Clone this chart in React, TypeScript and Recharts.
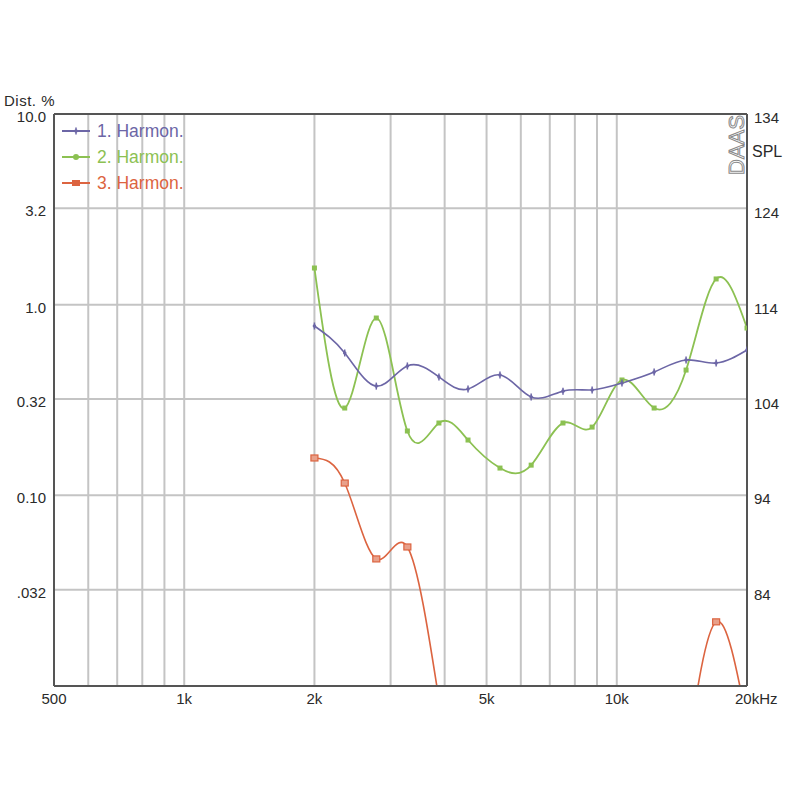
import React from 'react';
import { LineChart, Line, XAxis, YAxis, ReferenceLine } from 'recharts';

// Frequencies (Hz) of measured points
const freqs = [2000, 2350, 2780, 3280, 3880, 4530, 5370, 6340, 7510, 8770, 10280, 12200, 14460, 16970, 20000];
// Distortion in %
const harmon1 = [0.773, 0.558, 0.374, 0.477, 0.418, 0.361, 0.428, 0.328, 0.352, 0.357, 0.388, 0.443, 0.513, 0.494, 0.578];
const harmon2 = [1.557, 0.287, 0.851, 0.2175, 0.2395, 0.195, 0.139, 0.144, 0.2395, 0.228, 0.4027, 0.287, 0.454, 1.364, 0.754];
const harmon3: (number | null)[] = [0.157, 0.116, 0.0464, 0.0536, 0.0085, null, null, null, null, null, null, null, 0.004, 0.0217, 0.0065];

const seriesNames = ['1. Harmon.', '2. Harmon.', '3. Harmon.'];
const seriesColors = ['#6c66a6', '#8cc152', '#dc6440'];

const xTicks = [500, 1000, 2000, 5000, 10000, 20000];
const xTickLabels = ['500', '1k', '2k', '5k', '10k', '20k'];
const xGrid = [600, 700, 800, 900, 1000, 2000, 3000, 4000, 5000, 6000, 7000, 8000, 9000, 10000];

const yTicks = [10, 3.2, 1, 0.32, 0.1, 0.032];
const yTickLabels = ['10.0', '3.2', '1.0', '0.32', '0.10', '.032'];
const yGrid = [3.2, 1, 0.32, 0.1, 0.032];

const splTicks = [134, 124, 114, 104, 94, 84];

const data = freqs.map((f, i) => ({ f, h1: harmon1[i], h2: harmon2[i], h3: harmon3[i] }));

const FONT = '"Liberation Sans", Arial, sans-serif';
const GRID = '#c4c4c4';
const BORDER = '#555';
const TEXT = '#2a2a2a';

const XTick = (props: any) => {
  const { x, y, payload } = props;
  const idx = xTicks.indexOf(payload.value);
  const label = idx >= 0 ? xTickLabels[idx] : String(payload.value);
  if (payload.value === 20000) {
    return (
      <text x={x - 12} y={y + 16} fontSize={15} fontFamily={FONT} fill={TEXT} textAnchor="start">
        {label}Hz
      </text>
    );
  }
  return (
    <text x={x} y={y + 16} fontSize={15} fontFamily={FONT} fill={TEXT} textAnchor="middle">
      {label}
    </text>
  );
};

const YTickLeft = (props: any) => {
  const { x, y, payload } = props;
  const idx = yTicks.indexOf(payload.value);
  const label = idx >= 0 ? yTickLabels[idx] : String(payload.value);
  return (
    <text x={x - 6} y={y + 8} fontSize={15} fontFamily={FONT} fill={TEXT} textAnchor="end">
      {label}
    </text>
  );
};

const YTickRight = (props: any) => {
  const { x, y, payload } = props;
  return (
    <text x={x + 5} y={y + 9} fontSize={15} fontFamily={FONT} fill={TEXT} textAnchor="start">
      {payload.value}
    </text>
  );
};

const inPlot = (cx: number, cy: number) => cx >= 53 && cx <= 748 && cy >= 113 && cy <= 687;

const PlusDot = (props: any) => {
  const { cx, cy } = props;
  if (cx == null || cy == null || !inPlot(cx, cy)) return <g />;
  return (
    <g>
      <line x1={cx} y1={cy - 3.5} x2={cx} y2={cy + 3.5} stroke={seriesColors[0]} strokeWidth={1.5} />
      <circle cx={cx} cy={cy} r={1.8} fill={seriesColors[0]} />
    </g>
  );
};

const GreenDot = (props: any) => {
  const { cx, cy } = props;
  if (cx == null || cy == null || !inPlot(cx, cy)) return <g />;
  return <rect x={cx - 2.5} y={cy - 2.5} width={5} height={5} fill={seriesColors[1]} />;
};

const RedDot = (props: any) => {
  const { cx, cy } = props;
  if (cx == null || cy == null || !inPlot(cx, cy)) return <g />;
  return <rect x={cx - 3.5} y={cy - 3} width={7} height={6} fill="#e8a08a" stroke={seriesColors[2]} strokeWidth={1.2} />;
};

const LegendMarker = ({ i, cx, cy }: { i: number; cx: number; cy: number }) => {
  if (i === 0) return <PlusDot cx={cx} cy={cy} />;
  if (i === 1) return <circle cx={cx} cy={cy} r={3} fill={seriesColors[1]} />;
  return <rect x={cx - 4} y={cy - 3} width={8} height={6} fill={seriesColors[2]} />;
};

export default function App() {
  return (
    <div style={{ position: 'absolute', left: 0, top: 0, width: 800, height: 800, background: '#fff' }}>
      <LineChart
        width={800}
        height={800}
        data={data}
        margin={{ top: 114, right: 8, left: 0, bottom: 84 }}
      >
        <XAxis
          dataKey="f"
          type="number"
          scale="log"
          domain={[500, 20000]}
          ticks={xTicks}
          allowDataOverflow
          height={30}
          tick={<XTick />}
          tickLine={false}
          tickSize={0}
          axisLine={{ stroke: BORDER, strokeWidth: 2 }}
          interval={0}
        />
        <YAxis
          yAxisId="left"
          type="number"
          scale="log"
          domain={[0.01, 10]}
          ticks={yTicks}
          allowDataOverflow
          width={54}
          tick={<YTickLeft />}
          tickLine={false}
          tickSize={0}
          axisLine={{ stroke: BORDER, strokeWidth: 2 }}
          interval={0}
        />
        <YAxis
          yAxisId="right"
          orientation="right"
          type="number"
          domain={[74, 134]}
          ticks={splTicks}
          allowDataOverflow
          width={45}
          tick={<YTickRight />}
          tickLine={false}
          tickSize={0}
          axisLine={{ stroke: BORDER, strokeWidth: 2 }}
          interval={0}
        />
        {xGrid.map((v) => (
          <ReferenceLine key={'x' + v} x={v} yAxisId="left" stroke={GRID} strokeWidth={2} />
        ))}
        {yGrid.map((v) => (
          <ReferenceLine key={'y' + v} y={v} yAxisId="left" stroke={GRID} strokeWidth={2} />
        ))}
        <ReferenceLine y={10} yAxisId="left" stroke={BORDER} strokeWidth={2} />
        <Line
          yAxisId="left"
          dataKey="h3"
          type="natural"
          stroke={seriesColors[2]}
          strokeWidth={1.6}
          dot={<RedDot />}
          activeDot={false}
          isAnimationActive={false}
          connectNulls={false}
        />
        <Line
          yAxisId="left"
          dataKey="h2"
          type="natural"
          stroke={seriesColors[1]}
          strokeWidth={1.8}
          dot={<GreenDot />}
          activeDot={false}
          isAnimationActive={false}
        />
        <Line
          yAxisId="left"
          dataKey="h1"
          type="natural"
          stroke={seriesColors[0]}
          strokeWidth={1.6}
          dot={<PlusDot />}
          activeDot={false}
          isAnimationActive={false}
        />
      </LineChart>
      <svg
        width={800}
        height={800}
        style={{ position: 'absolute', left: 0, top: 0, pointerEvents: 'none' }}
      >
        <text x={4} y={106} fontSize={15} fontFamily={FONT} fill={TEXT} letterSpacing={0.5}>
          Dist. %
        </text>
        <text x={752} y={157} fontSize={16} fontFamily={FONT} fill={TEXT}>
          SPL
        </text>
        <text
          x={0}
          y={0}
          transform="translate(744,145) rotate(-90)"
          fontSize={22}
          fontFamily={FONT}
          fill="#fff"
          stroke="#8a8a8a"
          strokeWidth={1}
          textAnchor="middle"
        >
          DAAS
        </text>
        {seriesNames.map((name, i) => {
          const cy = 131 + i * 26;
          return (
            <g key={name}>
              <line x1={62} y1={cy} x2={90} y2={cy} stroke={seriesColors[i]} strokeWidth={2} />
              <LegendMarker i={i} cx={76} cy={cy} />
              <text x={97} y={cy + 6} fontSize={17.5} fontFamily={FONT} fill={seriesColors[i]}>
                {name}
              </text>
            </g>
          );
        })}
      </svg>
    </div>
  );
}
